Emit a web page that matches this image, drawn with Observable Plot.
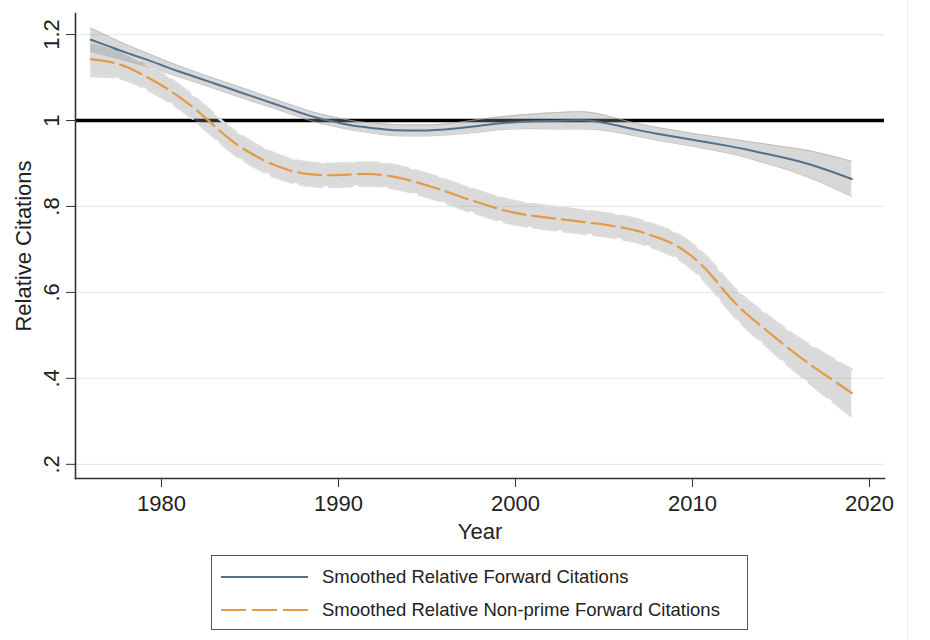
<!DOCTYPE html>
<html>
<head>
<meta charset="utf-8">
<script src="https://cdn.jsdelivr.net/npm/d3@7"></script>
<script src="https://cdn.jsdelivr.net/npm/@observablehq/plot@0.6"></script>
<style>
  html, body { margin: 0; padding: 0; background: #fff; }
  #wrap { position: relative; width: 930px; height: 640px; font-family: 'Liberation Sans', Arial, sans-serif; }
  #legend { position: absolute; left: 211px; top: 555px; width: 537px; height: 75px; box-sizing: border-box;
            border: 1.5px solid #555; background: #fff; }
  #legend .row { position: absolute; left: 0; height: 24px; display: flex; align-items: center; }
  #legend .row span { font-size: 18.5px; color: #222; margin-left: 14px; white-space: nowrap; }
  #edge { position: absolute; left: 907px; top: 0; width: 1px; height: 640px; background: #efefef; z-index: 5; }
</style>
</head>
<body>
<div id="wrap"></div>
<script>
// ---- data ----
const years = [1976,1977,1978,1979,1980,1981,1982,1983,1984,1985,1986,1987,1988,1989,1990,1991,1992,1993,1994,1995,1996,1997,1998,1999,2000,2001,2002,2003,2004,2005,2006,2007,2008,2009,2010,2011,2012,2013,2014,2015,2016,2017,2018,2019];

// Smoothed Relative Forward Citations
const forward = [1.188,1.173,1.158,1.144,1.129,1.114,1.100,1.086,1.072,1.058,1.044,1.030,1.016,1.004,0.995,0.987,0.982,0.978,0.977,0.977,0.979,0.983,0.988,0.993,0.996,0.998,0.999,1.000,1.000,0.995,0.986,0.977,0.969,0.962,0.955,0.948,0.941,0.933,0.924,0.915,0.905,0.893,0.879,0.864];
// half-width of its confidence band
const forwardCI = [0.027,0.023,0.019,0.016,0.014,0.013,0.012,0.012,0.012,0.012,0.011,0.011,0.011,0.011,0.011,0.011,0.012,0.013,0.013,0.013,0.013,0.014,0.015,0.015,0.016,0.017,0.019,0.020,0.020,0.018,0.016,0.015,0.015,0.015,0.015,0.016,0.017,0.019,0.022,0.025,0.029,0.033,0.037,0.041];

// Smoothed Relative Non-prime Forward Citations
const nonprime = [1.143,1.137,1.125,1.105,1.082,1.055,1.023,0.987,0.952,0.925,0.903,0.887,0.877,0.873,0.873,0.875,0.875,0.870,0.861,0.849,0.836,0.821,0.808,0.795,0.785,0.778,0.773,0.768,0.763,0.758,0.751,0.742,0.728,0.711,0.683,0.643,0.594,0.552,0.518,0.484,0.452,0.422,0.394,0.366];
const nonprimeCI = [0.040,0.035,0.031,0.029,0.028,0.027,0.027,0.027,0.027,0.027,0.027,0.027,0.027,0.027,0.027,0.027,0.027,0.027,0.027,0.027,0.027,0.027,0.027,0.027,0.027,0.027,0.027,0.027,0.027,0.027,0.027,0.027,0.027,0.028,0.029,0.031,0.032,0.034,0.036,0.039,0.042,0.046,0.050,0.055];

const xTicks = [1980, 1990, 2000, 2010, 2020];
const yTicks = [0.2, 0.4, 0.6, 0.8, 1, 1.2];
const yTickLabels = [".2", ".4", ".6", ".8", "1", "1.2"];
const refLine = [1];

const seriesNames = ["Smoothed Relative Forward Citations", "Smoothed Relative Non-prime Forward Citations"];
const colors = ["#52708d", "#e39a45"];
const dash = "23,7";

// ---- table for the library ----
const rows = years.map((year, i) => ({
  year,
  f: forward[i], fLo: forward[i] - forwardCI[i], fHi: forward[i] + forwardCI[i],
  n: nonprime[i], nLo: nonprime[i] - nonprimeCI[i], nHi: nonprime[i] + nonprimeCI[i]
}));

const curve = "natural";
const chart = Plot.plot({
  width: 930,
  height: 545,
  marginLeft: 75,
  marginRight: 46,
  marginTop: 13,
  marginBottom: 67,
  x: { domain: [1975.14, 2020.85] },
  y: { domain: [0.167, 1.249] },
  style: { fontFamily: "'Liberation Sans', Arial, sans-serif", fontSize: "22px", color: "#222", background: "white", overflow: "visible" },
  marks: [
    Plot.gridY(yTicks, { stroke: "#e3edf0", strokeOpacity: 1, strokeWidth: 1.2 }),
    Plot.ruleY(refLine, { stroke: "#000", strokeWidth: 3.5 }),
    // confidence bands
    Plot.areaY(rows, { x: "year", y1: "fLo", y2: "fHi", fill: "#8f8f8f", fillOpacity: 0.36, curve }),
    Plot.lineY(rows, { x: "year", y: "fHi", stroke: "#b0b0b0", strokeWidth: 1, strokeOpacity: 0.7, curve }),
    Plot.lineY(rows, { x: "year", y: "fLo", stroke: "#b0b0b0", strokeWidth: 1, strokeOpacity: 0.7, curve }),
    Plot.areaY(rows, { x: "year", y1: "nLo", y2: "nHi", fill: "#8f8f8f", fillOpacity: 0.33, curve }),
    Plot.lineY(rows, { x: "year", y: "nHi", stroke: "#dcdcdc", strokeWidth: 2.5, strokeDasharray: dash, curve }),
    Plot.lineY(rows, { x: "year", y: "nLo", stroke: "#dcdcdc", strokeWidth: 2.5, strokeDasharray: dash, curve }),
    // smoothed lines
    Plot.lineY(rows, { x: "year", y: "f", stroke: colors[0], strokeWidth: 2, curve }),
    Plot.lineY(rows, { x: "year", y: "n", stroke: colors[1], strokeWidth: 2.2, strokeDasharray: dash, curve }),
    // axes
    Plot.frame({ anchor: "left", stroke: "#333", strokeWidth: 1.6 }),
    Plot.frame({ anchor: "bottom", stroke: "#333", strokeWidth: 1.6 }),
    Plot.axisY(yTicks, {
      anchor: "left", tickSize: 9, tickPadding: 8, tickRotate: -90, stroke: "#333",
      tickFormat: (d) => yTickLabels[yTicks.indexOf(d)],
      label: "Relative Citations", labelAnchor: "center", labelArrow: "none", labelOffset: 60
    }),
    Plot.axisX(xTicks, {
      anchor: "bottom", tickSize: 9, tickPadding: 8, stroke: "#333",
      tickFormat: (d) => String(d),
      label: "Year", labelAnchor: "center", labelArrow: "none", labelOffset: 60
    })
  ]
});

const wrap = document.getElementById("wrap");
chart.style.position = "absolute";
chart.style.left = "0px";
chart.style.top = "0px";
wrap.appendChild(chart);

// legend (HTML below the plot)
const legend = document.createElement("div");
legend.id = "legend";
const rowTops = [8.5, 42];
seriesNames.forEach((name, i) => {
  const row = document.createElement("div");
  row.className = "row";
  row.style.top = rowTops[i] + "px";
  const sw = document.createElementNS("http://www.w3.org/2000/svg", "svg");
  sw.setAttribute("width", "96");
  sw.setAttribute("height", "24");
  const ln = document.createElementNS("http://www.w3.org/2000/svg", "line");
  ln.setAttribute("x1", "9"); ln.setAttribute("x2", "96");
  ln.setAttribute("y1", "12"); ln.setAttribute("y2", "12");
  ln.setAttribute("stroke", colors[i]);
  ln.setAttribute("stroke-width", "2");
  if (i === 1) ln.setAttribute("stroke-dasharray", "25,6");
  sw.appendChild(ln);
  row.appendChild(sw);
  const t = document.createElement("span");
  t.textContent = name;
  row.appendChild(t);
  legend.appendChild(row);
});
wrap.appendChild(legend);

const edge = document.createElement("div");
edge.id = "edge";
wrap.appendChild(edge);
</script>
</body>
</html>
